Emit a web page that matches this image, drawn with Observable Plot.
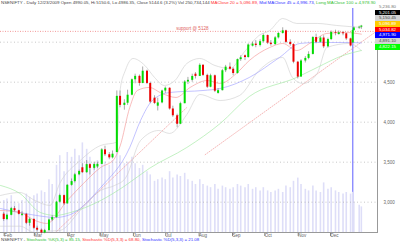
<!DOCTYPE html>
<html><head><meta charset="utf-8">
<script src="https://cdn.jsdelivr.net/npm/d3@7"></script>
<script src="https://cdn.jsdelivr.net/npm/@observablehq/plot@0.6"></script>
<style>
html,body{margin:0;padding:0;background:#fff;}
#wrap{position:relative;width:400px;height:243px;overflow:hidden;font-family:"Liberation Sans",Arial,sans-serif;}
#wrap svg{position:absolute;left:0;top:0;}
.hdr{position:absolute;left:1px;top:0;font-size:4.4px;line-height:6px;white-space:nowrap;color:#444;}
.ftr{position:absolute;left:1px;top:237px;font-size:4.4px;line-height:6px;white-space:nowrap;color:#444;}
.vals{position:absolute;left:375px;top:4px;width:25px;}
.vals div{height:5.7px;font-size:4.4px;line-height:5.7px;text-align:center;white-space:nowrap;}
</style></head>
<body><div id="wrap"></div>
<script>
// ---- price bars (NSENIFTY 2009) ----
const dates = ["2009-02-02","2009-02-05","2009-02-09","2009-02-12","2009-02-16","2009-02-19","2009-02-23","2009-02-26",
"2009-03-02","2009-03-05","2009-03-09","2009-03-12","2009-03-16","2009-03-19","2009-03-23","2009-03-26","2009-03-30",
"2009-04-02","2009-04-06","2009-04-09","2009-04-13","2009-04-16","2009-04-20","2009-04-23","2009-04-27","2009-04-30",
"2009-05-04","2009-05-07","2009-05-11","2009-05-14","2009-05-18","2009-05-21","2009-05-25","2009-05-28",
"2009-06-01","2009-06-04","2009-06-08","2009-06-11","2009-06-15","2009-06-18","2009-06-22","2009-06-25","2009-06-29",
"2009-07-02","2009-07-06","2009-07-09","2009-07-13","2009-07-16","2009-07-20","2009-07-23","2009-07-27","2009-07-30",
"2009-08-03","2009-08-06","2009-08-10","2009-08-13","2009-08-17","2009-08-20","2009-08-24","2009-08-27","2009-08-31",
"2009-09-03","2009-09-07","2009-09-10","2009-09-14","2009-09-17","2009-09-21","2009-09-24","2009-09-28",
"2009-10-01","2009-10-05","2009-10-08","2009-10-12","2009-10-15","2009-10-19","2009-10-22","2009-10-26","2009-10-29",
"2009-11-02","2009-11-05","2009-11-09","2009-11-12","2009-11-16","2009-11-19","2009-11-23","2009-11-26","2009-11-30",
"2009-12-03","2009-12-07","2009-12-10","2009-12-14","2009-12-17","2009-12-21","2009-12-23","2009-12-24","2009-12-29","2009-12-31"];
const opens = [2850,2783,2836,2919,2893,2835,2849,2736,
2785,2674,2650,2615,2645,2777,2807,3000,3082,
2979,3211,3257,3342,3430,3369,3469,3423,3440,
3473,3654,3593,3554,3620,4323,4210,4237,
4337,4530,4573,4484,4637,4484,4300,4200,4241,
4390,4424,4165,4080,3974,4231,4502,4523,4600,
4572,4711,4585,4437,4580,4360,4394,4643,4688,
4662,4608,4782,4830,4808,4950,4976,4958,
5006,5083,4988,4970,5054,5109,5142,4998,4970,
4750,4564,4765,4797,4847,5058,4998,5052,4942,
5033,5122,5095,5117,5105,5041,4990,5144,5178,5187];
const highs = [2870,2850,2935,2945,2900,2880,2860,2800,
2790,2700,2665,2660,2790,2830,3010,3100,3090,
3220,3290,3360,3400,3480,3520,3480,3500,3500,
3670,3700,3620,3640,4390,4390,4280,4400,
4540,4600,4590,4690,4650,4500,4330,4300,4400,
4440,4430,4200,4100,4250,4520,4560,4600,4620,
4730,4720,4600,4600,4590,4420,4660,4710,4740,
4680,4790,4830,4840,4980,5000,5020,5030,
5100,5090,5020,5070,5120,5180,5150,5030,4980,
4760,4780,4820,4880,5070,5100,5070,5080,5050,
5140,5150,5140,5130,5110,5050,5150,5190,5200,5210];
const lows = [2760,2770,2830,2880,2840,2820,2720,2700,
2660,2630,2600,2605,2640,2760,2800,2990,2960,
2975,3200,3240,3330,3360,3360,3340,3400,3420,
3470,3570,3530,3540,3620,4180,4150,4210,
4330,4480,4450,4480,4470,4230,4220,4140,4230,
4360,4150,4060,3930,3970,4230,4470,4500,4540,
4570,4570,4420,4430,4370,4350,4390,4620,4650,
4580,4600,4760,4770,4800,4940,4930,4940,
4990,4970,4950,4960,5040,5100,4980,4950,4730,
4540,4560,4740,4780,4840,4980,4990,4920,4930,
5020,5080,5090,5080,5020,4940,4986,5140,5160,5160];
const closes = [2783,2836,2919,2893,2848,2849,2736,2785,
2674,2650,2615,2645,2777,2807,3000,3082,2979,
3211,3257,3342,3383,3369,3469,3423,3470,3473,
3654,3593,3554,3600,4323,4210,4237,4337,
4530,4573,4484,4637,4484,4251,4235,4241,4390,
4424,4165,4080,3974,4231,4502,4523,4572,4572,
4711,4585,4437,4580,4387,4394,4643,4688,4662,
4608,4782,4805,4808,4965,4976,4958,5006,
5083,4988,4970,5054,5109,5142,4998,4970,4750,
4564,4765,4797,4847,5058,4998,5052,4942,5033,
5122,5112,5117,5105,5041,4952,5145,5178,5187,5201];
// volume, millions of shares
const volumes = [200,210,230,190,180,200,240,220,
230,240,260,250,330,300,420,480,380,
500,470,520,480,560,520,470,430,450,
500,440,420,450,560,480,430,440,
470,430,400,420,380,360,320,330,340,
330,380,340,360,350,370,330,320,300,
330,300,290,280,300,270,290,280,270,
280,300,290,280,300,270,280,260,
280,260,250,260,270,250,290,280,320,
340,300,270,260,290,260,250,310,270,
280,260,250,240,250,240,251,190,170,160];

// ---- indicator lines ----
const ma20Dates = ["2009-01-30","2009-02-17","2009-03-03","2009-03-14","2009-04-02","2009-04-17","2009-05-03","2009-05-15","2009-05-21","2009-05-30","2009-06-06","2009-06-17","2009-06-29","2009-07-12","2009-07-25","2009-08-10","2009-08-22","2009-09-06","2009-09-18","2009-10-07","2009-10-19","2009-11-01","2009-11-13","2009-11-29","2009-12-17","2009-12-31"];
const ma20Vals  = [2896,2871,2771,2734,3021,3234,3434,3530,3700,4184,4396,4434,4359,4309,4434,4521,4484,4609,4771,4934,4984,4896,4984,5109,5121,5100];
const ma45Dates = ["2009-01-30","2009-02-27","2009-03-22","2009-04-05","2009-05-03","2009-05-30","2009-06-09","2009-06-20","2009-07-06","2009-08-06","2009-08-22","2009-09-18","2009-10-16","2009-11-04","2009-11-20","2009-12-20","2009-12-31"];
const ma45Vals  = [2921,2846,2809,2846,3184,3684,4021,4271,4371,4396,4421,4559,4809,4984,4996,4996,4990];
const ma100Dates = ["2009-01-30","2009-02-17","2009-03-08","2009-03-22","2009-04-05","2009-05-03","2009-05-26","2009-06-17","2009-07-22","2009-08-22","2009-09-18","2009-11-01","2009-11-20","2009-12-14","2009-12-31"];
const ma100Vals  = [3209,3109,2871,2834,2871,3021,3209,3421,3684,3984,4321,4559,4684,4834,4896];
const bbUpDates = ["2009-01-30","2009-02-17","2009-03-03","2009-03-17","2009-03-26","2009-04-14","2009-05-03","2009-05-18","2009-05-21","2009-05-26","2009-06-02","2009-06-13","2009-06-22","2009-07-01","2009-07-11","2009-07-22","2009-08-03","2009-08-17","2009-08-31","2009-09-13","2009-09-27","2009-10-07","2009-10-19","2009-11-01","2009-11-20","2009-12-08","2009-12-31"];
const bbUpVals  = [3084,3121,3021,2959,3234,3521,3709,3750,4400,4650,4796,4709,4559,4459,4521,4734,4796,4709,4671,4871,5084,5146,5296,5234,5234,5209,5184];
const bbLoDates = ["2009-01-30","2009-02-17","2009-03-03","2009-03-17","2009-03-26","2009-04-14","2009-05-03","2009-05-16","2009-05-26","2009-06-09","2009-06-26","2009-07-06","2009-07-22","2009-08-03","2009-08-22","2009-09-09","2009-09-27","2009-10-19","2009-10-28","2009-11-07","2009-11-20","2009-11-29","2009-12-20","2009-12-31"];
const bbLoVals  = [2700,2700,2620,2640,2646,2896,3146,3209,3300,3771,3896,3859,4096,4346,4271,4334,4646,4809,4559,4484,4609,4934,4984,4896];
const trend1Dates = ["2009-03-22","2009-07-22"];
const trend1Vals  = [2621,4184];
const trend2Dates = ["2009-08-08","2010-01-15"];
const trend2Vals  = [3594,5146];
const supportLevel = 5135;
const supportText = "support @ 5128";
const supportLabelDate = "2009-08-11";
const cursorDate = "2009-12-23";

// ---- axes ----
const monthTicks = ["2009-02-01","2009-03-01","2009-04-01","2009-05-01","2009-06-01","2009-07-01","2009-08-01","2009-09-01","2009-10-01","2009-11-01","2009-12-01"];
const priceTicks = [3000,3500,4000,4500];
const gridLevels = [3000,3500,4000,4500,5000];
const xDomainDates = ["2009-01-30","2010-01-15"];
const yDomainVals = [2621,5421];
const volDomainVals = [0,1400];

// ---- right-side value boxes ----
const boxLabels = ["5,236.80","5,201.05","5,150.45","5,096.89","5,034.82","4,971.90","4,891.10","4,822.15"];
const boxBg     = ["#ffffff","#000000","#d4d4d4","#ffcc00","#ff0000","#0000ff","#d4d4d4","#00ff00"];
const boxFg     = ["#777777","#ffffff","#444444","#ffffff","#ffffff","#ffffff","#444444","#ffffff"];

const parse = d3.utcParse("%Y-%m-%d");
const bars = dates.map((d,i)=>({date:parse(d),open:opens[i],high:highs[i],low:lows[i],close:closes[i],vol:volumes[i]}));
const series = (ds,vs)=>ds.map((d,i)=>({date:parse(d),value:vs[i]}));
const xDomain = xDomainDates.map(parse);

const common = {width:400,height:243,marginLeft:0,marginRight:23,marginTop:8,marginBottom:11,
  x:{type:"utc",domain:xDomain,axis:null},
  style:{background:"transparent",fontFamily:"Liberation Sans, Arial, sans-serif",fontSize:"4.5px",color:"#666"}};

const volPlot = Plot.plot({...common,
  y:{domain:volDomainVals,axis:null},
  marks:[
    Plot.ruleX([parse(cursorDate)],{stroke:"#8c8cff",strokeWidth:1.4}),
    Plot.ruleX(bars,{x:"date",y1:0,y2:"vol",stroke:"#dedef8",strokeWidth:1.6})
  ]});

const pricePlot = Plot.plot({...common,
  y:{domain:yDomainVals,axis:null},
  color:{type:"identity"},
  marks:[
    Plot.ruleY(gridLevels,{stroke:"#a0a0a0",strokeDasharray:"1,2.5",strokeWidth:0.6}),
    Plot.axisY({anchor:"right",ticks:priceTicks,tickFormat:d3.format(","),tickSize:0,tickPadding:6,fill:"#666"}),
    Plot.axisX({ticks:monthTicks.map(parse),tickFormat:d3.utcFormat("%b"),tickSize:4,tickPadding:-3,textAnchor:"start",dx:1.5,fill:"#666",stroke:"#888"}),
    Plot.frame({anchor:"bottom",stroke:"#999"}),
    Plot.frame({anchor:"right",stroke:"#999"}),
    Plot.ruleY([supportLevel],{stroke:"#f08080",strokeDasharray:"1,1.5",strokeWidth:0.8}),
    Plot.text([{date:parse(supportLabelDate),value:supportLevel,label:supportText}],{x:"date",y:"value",text:"label",fill:"#e06060",textAnchor:"end",dy:-3,fontSize:4.5}),
    Plot.line(series(trend1Dates,trend1Vals),{x:"date",y:"value",stroke:"#f09a9a",strokeDasharray:"1,1.5",strokeWidth:0.7,clip:true}),
    Plot.line(series(trend2Dates,trend2Vals),{x:"date",y:"value",stroke:"#f09a9a",strokeDasharray:"1,1.5",strokeWidth:0.7,clip:true}),
    Plot.line(series(bbUpDates,bbUpVals),{x:"date",y:"value",stroke:"#cccccc",strokeWidth:0.6,curve:"monotone-x",clip:true}),
    Plot.line(series(bbLoDates,bbLoVals),{x:"date",y:"value",stroke:"#cccccc",strokeWidth:0.6,curve:"monotone-x",clip:true}),
    Plot.line(series(ma100Dates,ma100Vals),{x:"date",y:"value",stroke:"#9ae89a",strokeWidth:0.6,curve:"monotone-x",clip:true}),
    Plot.line(series(ma45Dates,ma45Vals),{x:"date",y:"value",stroke:"#9a9aff",strokeWidth:0.6,curve:"monotone-x",clip:true}),
    Plot.line(series(ma20Dates,ma20Vals),{x:"date",y:"value",stroke:"#f49090",strokeWidth:0.6,curve:"monotone-x",clip:true}),
    Plot.ruleX(bars,{x:"date",y1:"low",y2:"high",stroke:"#555",strokeWidth:0.5}),
    Plot.ruleX(bars,{x:"date",y1:"open",y2:"close",stroke:d=>d.close>=d.open?"#00dd00":"#ee0000",strokeWidth:2})
  ]});

const wrap = document.getElementById("wrap");
wrap.appendChild(volPlot);
wrap.appendChild(pricePlot);

const hdr = document.createElement("div");
hdr.className = "hdr";
hdr.innerHTML = 'NSENIFTY - Daily 12/23/2009 Open 4990.05, Hi 5150.6, Lo 4986.35, Close 5144.6 (3.2%) Vol 250,734,144 ' +
 '<span style="color:#ff3030">MAClose 20 = 5,096.89,</span> <span style="color:#3030ff">Mid MAClose 45 = 4,996.73,</span> ' +
 '<span style="color:#30c030">Long MAClose 100 = 4,978.90</span>';
wrap.appendChild(hdr);

const ftr = document.createElement("div");
ftr.className = "ftr";
ftr.innerHTML = 'NSENIFTY - <span style="color:#30c030">Stochastic %K(5,3) = 85.15,</span> <span style="color:#ff3030">Stochastic %D(5,3,3) = 68.80,</span> <span style="color:#3030ff">Stochastic %D(5,3,3) = 21.08</span>';
wrap.appendChild(ftr);

const vals = document.createElement("div");
vals.className = "vals";
boxLabels.forEach((t,i)=>{
  const b = document.createElement("div");
  b.textContent = t;
  b.style.background = boxBg[i];
  b.style.color = boxFg[i];
  vals.appendChild(b);
});
wrap.appendChild(vals);
</script></body></html>
